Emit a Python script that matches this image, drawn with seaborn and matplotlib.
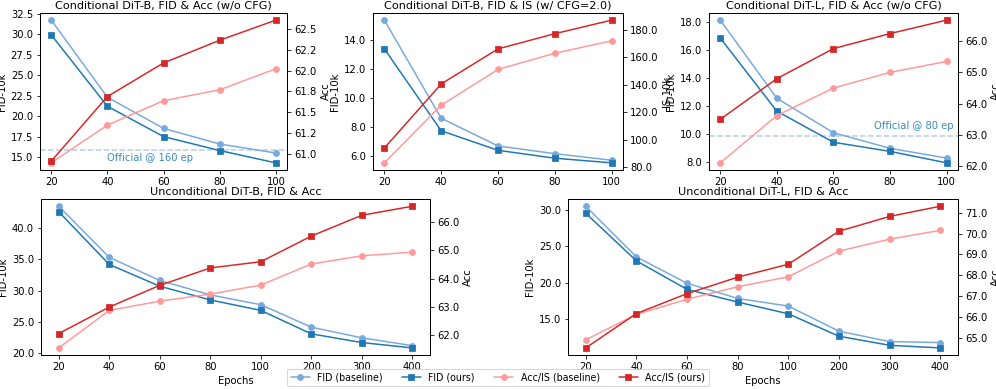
import numpy as np
import pandas as pd
import matplotlib
matplotlib.use("Agg")
import matplotlib.pyplot as plt
import seaborn as sns
from matplotlib.ticker import FormatStrFormatter, MaxNLocator

sns.set_style("ticks")
plt.rcParams["font.family"] = ["DejaVu Sans"]
plt.rcParams["axes.edgecolor"] = "black"
plt.rcParams["xtick.color"] = "black"
plt.rcParams["ytick.color"] = "black"
plt.rcParams["text.color"] = "black"
plt.rcParams["axes.labelcolor"] = "black"

# epochs
epochs_short = ["20", "40", "60", "80", "100"]
epochs_long = ["20", "40", "60", "80", "100", "200", "300", "400"]

# Conditional DiT-B, w/o CFG
c_b_fid_base = [31.7, 22.3, 18.5, 16.6, 15.5]
c_b_fid_ours = [29.9, 21.2, 17.5, 15.8, 14.3]
c_b_acc_base = [60.90, 61.35, 61.64, 61.77, 62.02]
c_b_acc_ours = [60.92, 61.69, 62.09, 62.36, 62.60]
c_b_official = 15.87

# Conditional DiT-B, CFG=2.0
cfg_fid_base = [15.35, 8.62, 6.72, 6.19, 5.74]
cfg_fid_ours = [13.38, 7.76, 6.42, 5.88, 5.56]
cfg_is_base = [83.0, 125.1, 151.2, 163.0, 172.1]
cfg_is_ours = [93.8, 140.6, 166.2, 177.3, 187.2]

# Conditional DiT-L, w/o CFG
c_l_fid_base = [18.12, 12.54, 10.08, 8.97, 8.27]
c_l_fid_ours = [16.84, 11.62, 9.40, 8.75, 7.93]
c_l_acc_base = [62.11, 63.62, 64.50, 65.00, 65.35]
c_l_acc_ours = [63.50, 64.80, 65.76, 66.24, 66.67]
c_l_official = 9.88

# Unconditional DiT-B
u_b_fid_base = [43.5, 35.34, 31.64, 29.33, 27.77, 24.18, 22.47, 21.23]
u_b_fid_ours = [42.63, 34.2, 30.72, 28.53, 26.86, 23.11, 21.72, 20.86]
u_b_acc_base = [61.54, 62.87, 63.20, 63.45, 63.77, 64.52, 64.81, 64.94]
u_b_acc_ours = [62.05, 62.99, 63.76, 64.38, 64.60, 65.51, 66.25, 66.57]

# Unconditional DiT-L
u_l_fid_base = [30.46, 23.53, 19.91, 17.84, 16.79, 13.35, 11.93, 11.79]
u_l_fid_ours = [29.5, 22.98, 19.08, 17.34, 15.73, 12.66, 11.42, 11.06]
u_l_acc_base = [64.89, 66.11, 66.84, 67.44, 67.92, 69.15, 69.73, 70.15]
u_l_acc_ours = [64.50, 66.15, 67.11, 67.90, 68.52, 70.11, 70.82, 71.31]

BLUE_BASE = "#78a9dd"
BLUE_OURS = "#1f77b4"
RED_BASE = "#ff9a9a"
RED_OURS = "#d62728"


def draw_panel(ax, epochs, fid_base, fid_ours, acc_base, acc_ours, title,
               right_label, xlabel=None):
    df = pd.DataFrame({
        "x": np.arange(len(epochs)),
        "fid_base": fid_base,
        "fid_ours": fid_ours,
        "acc_base": acc_base,
        "acc_ours": acc_ours,
    })
    for col, color, marker, label in [
        ("fid_base", BLUE_BASE, "o", "FID (baseline)"),
        ("fid_ours", BLUE_OURS, "s", "FID (ours)"),
    ]:
        sns.lineplot(data=df, x="x", y=col, ax=ax, color=color, marker=marker,
                     markersize=6, markeredgecolor=color, linewidth=1.5,
                     label=label, legend=False)
    ax2 = ax.twinx()
    for col, color, marker, label in [
        ("acc_base", RED_BASE, "o", "Acc/IS (baseline)"),
        ("acc_ours", RED_OURS, "s", "Acc/IS (ours)"),
    ]:
        sns.lineplot(data=df, x="x", y=col, ax=ax2, color=color, marker=marker,
                     markersize=6, markeredgecolor=color, linewidth=1.5,
                     label=label, legend=False)
    ax.set_xticks(df["x"])
    ax.set_xticklabels(epochs)
    ax.set_title(title, fontsize=11.2, pad=4)
    ax.set_ylabel("FID-10k")
    ax.set_xlabel(xlabel if xlabel else "")
    ax2.set_ylabel(right_label)
    for a in (ax, ax2):
        a.yaxis.set_major_locator(MaxNLocator(nbins=8, steps=[1, 2, 2.5, 5, 10]))
        a.yaxis.set_major_formatter(FormatStrFormatter("%.1f"))
    for spine in list(ax.spines.values()) + list(ax2.spines.values()):
        spine.set_linewidth(1.0)
    handles = ax.get_lines() + ax2.get_lines()
    return ax2, handles


fig = plt.figure(figsize=(996 / 72, 389 / 72), dpi=72)

ax_a = fig.add_axes([0.0402, 0.563, 0.248, 0.4036])
ax_b = fig.add_axes([0.3745, 0.563, 0.251, 0.4036])
ax_c = fig.add_axes([0.7118, 0.563, 0.250, 0.4036])
ax_d = fig.add_axes([0.0412, 0.0874, 0.3905, 0.4006])
ax_e = fig.add_axes([0.5703, 0.0874, 0.3915, 0.4006])

_, handles = draw_panel(ax_a, epochs_short, c_b_fid_base, c_b_fid_ours,
                        c_b_acc_base, c_b_acc_ours,
                        "Conditional DiT-B, FID & Acc (w/o CFG)", "Acc")
ax_a.axhline(c_b_official, color=BLUE_OURS, alpha=0.35, linestyle="--",
             linewidth=1.5, zorder=1)
ax_a.text(1, c_b_official - 0.35, "Official @ 160 ep", color="#3a8ac4",
          ha="left", va="top", fontsize=10)

draw_panel(ax_b, epochs_short, cfg_fid_base, cfg_fid_ours,
           cfg_is_base, cfg_is_ours,
           "Conditional DiT-B, FID & IS (w/ CFG=2.0)", "IS-10k")

draw_panel(ax_c, epochs_short, c_l_fid_base, c_l_fid_ours,
           c_l_acc_base, c_l_acc_ours,
           "Conditional DiT-L, FID & Acc (w/o CFG)", "Acc")
ax_c.axhline(c_l_official, color=BLUE_OURS, alpha=0.35, linestyle="--",
             linewidth=1.5, zorder=1)
ax_c.text(4.13, c_l_official + 0.3, "Official @ 80 ep", color="#3a8ac4",
          ha="right", va="bottom", fontsize=10)

draw_panel(ax_d, epochs_long, u_b_fid_base, u_b_fid_ours,
           u_b_acc_base, u_b_acc_ours,
           "Unconditional DiT-B, FID & Acc", "Acc", xlabel="Epochs")

draw_panel(ax_e, epochs_long, u_l_fid_base, u_l_fid_ours,
           u_l_acc_base, u_l_acc_ours,
           "Unconditional DiT-L, FID & Acc", "Acc", xlabel="Epochs")

fig.legend(handles=handles, labels=[h.get_label() for h in handles],
           loc="lower center", ncol=4, bbox_to_anchor=(0.5, -0.005),
           fontsize=9.5, frameon=True, handlelength=2.0, columnspacing=2.0)

fig.savefig("out.png", dpi=72)
